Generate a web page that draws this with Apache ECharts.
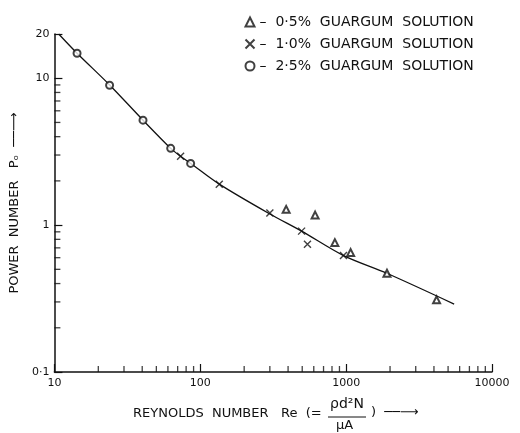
<!DOCTYPE html>
<html>
<head>
<meta charset="utf-8">
<script src="https://cdn.jsdelivr.net/npm/echarts@6/dist/echarts.min.js"></script>
<style>
  html, body { margin: 0; padding: 0; background: #fff; }
  #chart { width: 520px; height: 433px; }
</style>
</head>
<body>
<div id="chart"></div>
<script>
// data (log-log)
var gum05Re = [388, 613, 837, 1074, 1905, 4170];
var gum05Po = [1.28, 1.17, 0.76, 0.65, 0.47, 0.31];

var gum10Re = [73.3, 135, 300, 495, 543, 959];
var gum10Po = [2.94, 1.90, 1.21, 0.91, 0.74, 0.62];

var gum25Re = [14.3, 23.9, 40.5, 62.7, 85.9];
var gum25Po = [14.8, 8.96, 5.18, 3.33, 2.63];

// fitted curve
var curveRe = [10.7, 14.3, 24, 40.5, 62.7, 73.3, 86, 135, 300, 495, 960, 1900, 5500];
var curvePo = [20, 14.8, 8.96, 5.18, 3.33, 2.94, 2.63, 1.90, 1.19, 0.91, 0.62, 0.47, 0.29];

// minor tick values
var xMinor = [20, 30, 40, 50, 60, 70, 80, 90, 200, 300, 400, 500, 600, 700, 800, 900,
              2000, 3000, 4000, 5000, 6000, 7000, 8000, 9000];
var yMinor = [0.2, 0.3, 0.4, 0.5, 0.6, 0.7, 0.8, 0.9, 2, 3, 4, 5, 6, 7, 8, 9];

function pairs(xs, ys) {
  var out = [];
  for (var i = 0; i < xs.length; i++) out.push([xs[i], ys[i]]);
  return out;
}

var ink = '#111';
var font = 'DejaVu Sans';
var crossPath = 'path://M0,0L10,10M10,0L0,10';
var arrow = '\u2500\u2500\u27F6';

var chart = echarts.init(document.getElementById('chart'), null, { renderer: 'canvas' });

var option = {
  backgroundColor: '#fff',
  animation: false,
  grid: { left: 49, right: 28, top: 34, bottom: 61 },
  legend: {
    orient: 'vertical',
    left: 238,
    top: 10,
    itemGap: 8,
    itemWidth: 9,
    itemHeight: 9,
    textStyle: { fontFamily: font, fontSize: 14, color: ink },
    formatter: function (name) { return '–  ' + name; },
    data: [
      { name: '0·5%  GUARGUM  SOLUTION', icon: 'emptyTriangle' },
      { name: '1·0%  GUARGUM  SOLUTION', icon: crossPath },
      { name: '2·5%  GUARGUM  SOLUTION', icon: 'emptyCircle' }
    ]
  },
  xAxis: {
    type: 'log',
    logBase: 10,
    min: 10,
    max: 10000,
    axisLine: { lineStyle: { color: ink, width: 1.5 } },
    axisTick: { inside: true, length: 8, lineStyle: { color: ink, width: 1.2 } },
    splitLine: { show: false },
    axisLabel: {
      fontFamily: font, fontSize: 11, color: ink, margin: 6,
      formatter: function (v) { return String(Math.round(v)); }
    }
  },
  yAxis: {
    type: 'log',
    logBase: 10,
    min: 0.1,
    max: 20,
    axisLine: { lineStyle: { color: ink, width: 1.5 } },
    axisTick: { inside: true, length: 8, lineStyle: { color: ink, width: 1.2 } },
    splitLine: { show: false },
    axisLabel: {
      fontFamily: font, fontSize: 11, color: ink, margin: 5,
      showMaxLabel: true,
      formatter: function (v) { return String(Number(v.toPrecision(3))).replace('.', '·'); }
    },
    name: 'POWER  NUMBER   P\u2092  ' + arrow,
    nameLocation: 'middle',
    nameRotate: 90,
    nameGap: 23,
    nameTextStyle: { fontFamily: font, fontSize: 13, color: ink }
  },
  graphic: [
    { type: 'text', left: 133, top: 407,
      style: { text: 'REYNOLDS  NUMBER   Re  (=', font: '13px "DejaVu Sans"', fill: ink } },
    { type: 'text', left: 330, top: 397,
      style: { text: '\u03C1d\u00B2N', font: '14px "DejaVu Sans"', fill: ink } },
    { type: 'line', shape: { x1: 328, y1: 417, x2: 366, y2: 417 }, style: { stroke: ink, lineWidth: 1 } },
    { type: 'text', left: 336, top: 419,
      style: { text: '\u03BCA', font: '13px "DejaVu Sans"', fill: ink } },
    { type: 'text', left: 371, top: 406,
      style: { text: ')  ' + arrow, font: '13px "DejaVu Sans"', fill: ink } }
  ],
  series: [
    {
      name: 'curve',
      type: 'line',
      data: pairs(curveRe, curvePo),
      smooth: 0.3,
      showSymbol: false,
      silent: true,
      lineStyle: { color: ink, width: 1.3 },
      z: 2
    },
    {
      name: '0·5%  GUARGUM  SOLUTION',
      type: 'scatter',
      data: pairs(gum05Re, gum05Po),
      symbol: 'emptyTriangle',
      symbolSize: 7,
      itemStyle: { color: ink, borderColor: ink, borderWidth: 1.6 },
      z: 3
    },
    {
      name: '1·0%  GUARGUM  SOLUTION',
      type: 'scatter',
      data: pairs(gum10Re, gum10Po),
      symbol: crossPath,
      symbolSize: 7,
      itemStyle: { color: 'none', borderColor: ink, borderWidth: 1.4 },
      z: 3
    },
    {
      name: '2·5%  GUARGUM  SOLUTION',
      type: 'scatter',
      data: pairs(gum25Re, gum25Po),
      symbol: 'emptyCircle',
      symbolSize: 7,
      itemStyle: { color: ink, borderColor: ink, borderWidth: 1.2 },
      z: 3
    },
    {
      name: 'xMinorTicks',
      type: 'scatter',
      silent: true,
      data: xMinor.map(function (v) { return [v, 0.1]; }),
      symbol: 'rect',
      symbolSize: [1.3, 6],
      symbolOffset: [0, -3],
      itemStyle: { color: ink },
      z: 4
    },
    {
      name: 'yMinorTicks',
      type: 'scatter',
      silent: true,
      data: yMinor.map(function (v) { return [10, v]; }),
      symbol: 'rect',
      symbolSize: [6, 1.3],
      symbolOffset: [3, 0],
      itemStyle: { color: ink },
      z: 4
    }
  ]
};

chart.setOption(option);
</script>
</body>
</html>
